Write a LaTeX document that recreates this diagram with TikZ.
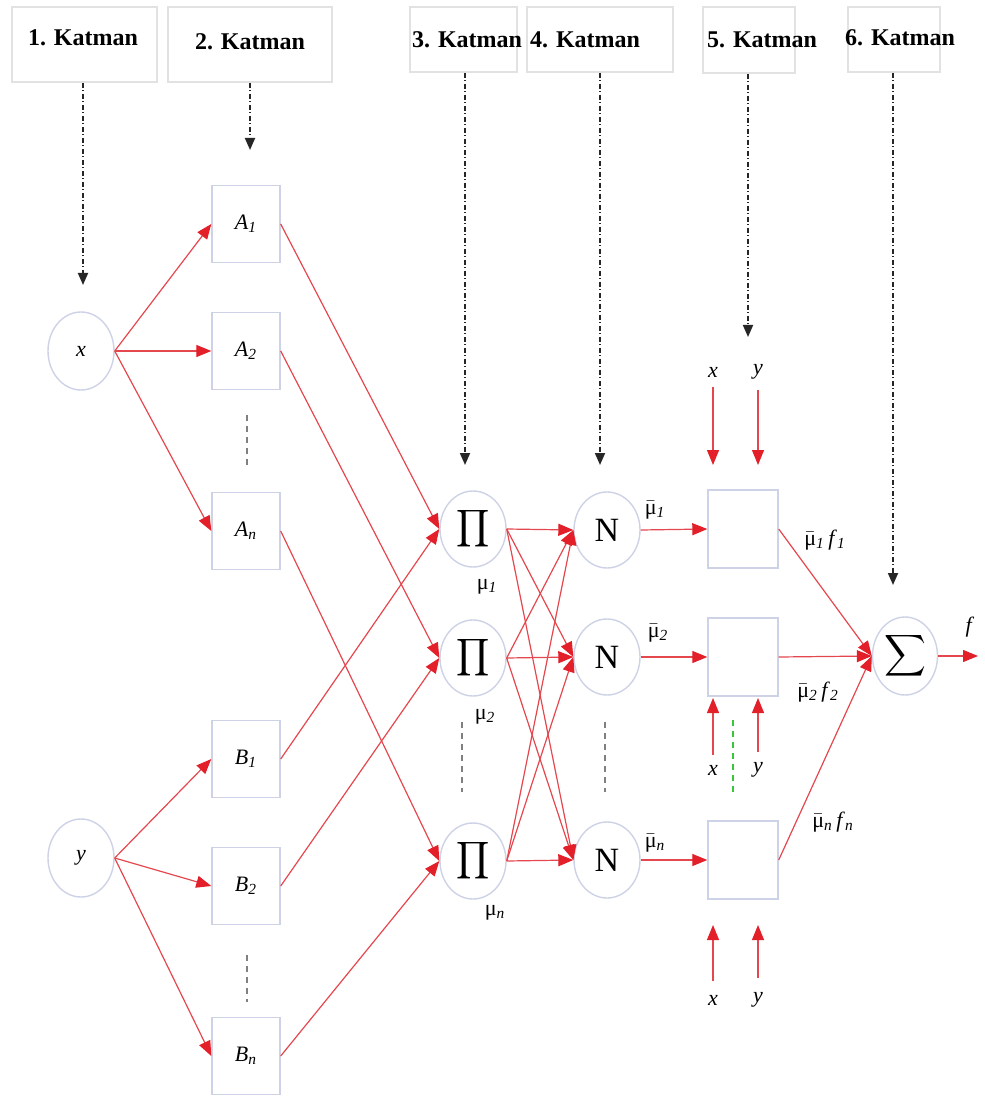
\documentclass[tikz,border=0pt]{standalone}
\usepackage{fontspec}
\setmainfont{Liberation Serif}
\usepackage{graphicx}
\usetikzlibrary{arrows.meta,shapes.geometric}
\definecolor{rd}{HTML}{E3202A}
\definecolor{rl}{HTML}{E5474E}
\definecolor{nb}{HTML}{CDD2E6}
\definecolor{lb}{HTML}{E2E2E2}
\newcommand{\lbl}[2]{\textit{#1}\textsubscript{\textit{#2}}}
\newcommand{\mub}{\ensuremath{\bar{\mbox{μ}}}}
\begin{document}
\begin{tikzpicture}[x=0.5pt,y=-0.5pt,
  lbox/.style={draw=lb,line width=0.8pt,inner sep=0pt},
  ktext/.style={font=\bfseries\fontsize{12}{14}\selectfont,inner sep=1pt},
  rnode/.style={draw=nb,line width=0.7pt,ellipse,minimum width=33pt,minimum height=38pt,inner sep=0pt,font=\fontsize{11}{13}\selectfont},
  sbox/.style={draw=nb,line width=0.7pt,rectangle,minimum width=34pt,minimum height=38.5pt,inner sep=0pt,font=\fontsize{11}{13}\selectfont},
  fbox/.style={draw=nb,line width=0.7pt,rectangle,minimum width=35pt,minimum height=39pt,inner sep=0pt},
  lab/.style={inner sep=1pt,font=\fontsize{11}{13}\selectfont},
  dd/.style={draw=black!85,line width=0.9pt,dash pattern=on 2.5pt off 1.2pt on 0.6pt off 1.2pt,-{Triangle[length=6pt,width=5pt]}},
  ra/.style={draw=rl,line width=0.6pt,-{Triangle[length=7.5pt,width=6pt,color=rd]}},
  dots/.style={draw=gray,line width=0.7pt,dash pattern=on 3pt off 2.5pt}]
\useasboundingbox (0,0) rectangle (984,1106);
% layer title boxes
\node[lbox,minimum width=72.5pt,minimum height=37.5pt] (k1) at (84.5,44.5) {};
\node[lbox,minimum width=82pt,minimum height=37.5pt] (k2) at (250,44.5) {};
\node[lbox,minimum width=53.5pt,minimum height=32.5pt] (k3) at (463.5,39.5) {};
\node[lbox,minimum width=73pt,minimum height=32.5pt] (k4) at (600,39.5) {};
\node[lbox,minimum width=46pt,minimum height=33pt] (k5) at (749,40) {};
\node[lbox,minimum width=46pt,minimum height=32.5pt] (k6) at (894,39.5) {};
\node[ktext] (t1) at (83,38) {1. Katman};
\node[ktext] (t2) at (250,42) {2. Katman};
\node[ktext] (t3) at (467,40) {3. Katman};
\node[ktext] (t4) at (585,40) {4. Katman};
\node[ktext] (t5) at (762,40) {5. Katman};
\node[ktext] (t6) at (900,38) {6. Katman};
\coordinate (e1) at (83,285);
\coordinate (e2) at (250,150);
\coordinate (e3) at (465,465);
\coordinate (e4) at (600,465);
\coordinate (e5) at (748,337);
\coordinate (e6) at (893,585);
\foreach \i in {1,...,6}{\draw[dd] (k\i.south -| e\i) -- (e\i);}
% inputs
\node[rnode,minimum height=39pt] (X) at (81,351) {\textit{x}};
\node[rnode,minimum height=39pt] (Y) at (81,858) {\textit{y}};
% layer 2
\node[sbox] (A1) at (246,224) {\lbl{A}{1}};
\node[sbox] (A2) at (246,351) {\lbl{A}{2}};
\node[sbox] (An) at (246,531) {\lbl{A}{n}};
\node[sbox] (B1) at (246,759) {\lbl{B}{1}};
\node[sbox] (B2) at (246,886) {\lbl{B}{2}};
\node[sbox] (Bn) at (246,1056) {\lbl{B}{n}};
\draw[dots] (247,415) -- (247,465);
\draw[dots] (247,955) -- (247,1002);
% layer 3
\node[rnode] (P1) at (473,529) {\scalebox{1.3}{$\displaystyle\prod$}};
\node[rnode] (P2) at (473,658) {\scalebox{1.3}{$\displaystyle\prod$}};
\node[rnode] (P3) at (473,861) {\scalebox{1.3}{$\displaystyle\prod$}};
\draw[dots] (462,722) -- (462,792);
% layer 4
\node[rnode] (N1) at (607,530) {\fontsize{17}{20}\selectfont N};
\node[rnode] (N2) at (607,657) {\fontsize{17}{20}\selectfont N};
\node[rnode] (N3) at (607,860) {\fontsize{17}{20}\selectfont N};
\draw[dots] (605,722) -- (605,792);
% layer 5
\node[fbox] (F1) at (743,529) {};
\node[fbox] (F2) at (743,657) {};
\node[fbox] (F3) at (743,860) {};
% layer 6
\node[rnode,minimum width=32.5pt,minimum height=39pt] (S) at (905,656) {\scalebox{1.45}{$\displaystyle\sum$}};
\coordinate (out) at (978,656);
\node[lab] (fo) at (970,627) {\textit{f}};
% connectors layer1 -> layer2
\foreach \t in {A1,A2,An}{\draw[ra] (X.east) -- (\t.west);}
\foreach \t in {B1,B2,Bn}{\draw[ra] (Y.east) -- (\t.west);}
% layer2 -> layer3
\draw[ra] (A1.east) -- (P1.west);
\draw[ra] (A2.east) -- (P2.west);
\draw[ra] (An.east) -- (P3.west);
\draw[ra] (B1.east) -- (P1.west);
\draw[ra] (B2.east) -- (P2.west);
\draw[ra] (Bn.east) -- (P3.west);
% layer3 -> layer4
\foreach \s in {P1,P2,P3}{\foreach \t in {N1,N2,N3}{\draw[ra] (\s.east) -- (\t.west);}}
% layer4 -> layer5
\draw[ra] (N1.east) -- (F1.west);
\draw[ra] (N2.east) -- (F2.west);
\draw[ra] (N3.east) -- (F3.west);
% layer5 -> layer6
\draw[ra] (F1.east) -- (S.west);
\draw[ra] (F2.east) -- (S.west);
\draw[ra] (F3.east) -- (S.west);
\draw[ra] (S.east) -- (out);
% x, y inputs to layer 5
\node[lab] (fx1) at (713,372) {\textit{x}};
\node[lab] (fy1) at (758,372) {\textit{y}};
\coordinate (cx1) at (713,465);
\coordinate (cy1) at (758,465);
\draw[ra,shorten <=4pt] (fx1) -- (cx1);
\draw[ra,shorten <=4pt] (fy1) -- (cy1);
\node[lab] (fx2) at (713,770) {\textit{x}};
\node[lab] (fy2) at (758,770) {\textit{y}};
\coordinate (cx2) at (713,698);
\coordinate (cy2) at (758,698);
\draw[ra,shorten <=4pt] (fx2) -- (cx2);
\draw[ra,shorten <=4pt] (fy2) -- (cy2);
\draw[draw=green!55!gray,line width=0.7pt,dash pattern=on 3pt off 2.5pt] (733,720) -- (733,793);
\node[lab] (fx3) at (713,1000) {\textit{x}};
\node[lab] (fy3) at (758,1000) {\textit{y}};
\coordinate (cx3) at (713,925);
\coordinate (cy3) at (758,925);
\draw[ra,shorten <=6pt] (fx3) -- (cx3);
\draw[ra,shorten <=6pt] (fy3) -- (cy3);
% labels
\node[lab] (m1) at (487,587) {μ\textsubscript{\textit{1}}};
\node[lab] (m2) at (485,717) {μ\textsubscript{\textit{2}}};
\node[lab] (m3) at (495,913) {μ\textsubscript{\textit{n}}};
\node[lab] (b1) at (655,510) {\mub\textsubscript{\textit{1}}};
\node[lab] (b2) at (658,633) {\mub\textsubscript{\textit{2}}};
\node[lab] (b3) at (655,843) {\mub\textsubscript{\textit{n}}};
\node[lab] (g1) at (825,540) {\mub\textsubscript{\textit{1}}\,\textit{f}\textsubscript{\textit{1}}};
\node[lab] (g2) at (818,692) {\mub\textsubscript{\textit{2}}\,\textit{f}\textsubscript{\textit{2}}};
\node[lab] (g3) at (833,822) {\mub\textsubscript{\textit{n}}\,\textit{f}\textsubscript{\textit{n}}};
\end{tikzpicture}
\end{document}
